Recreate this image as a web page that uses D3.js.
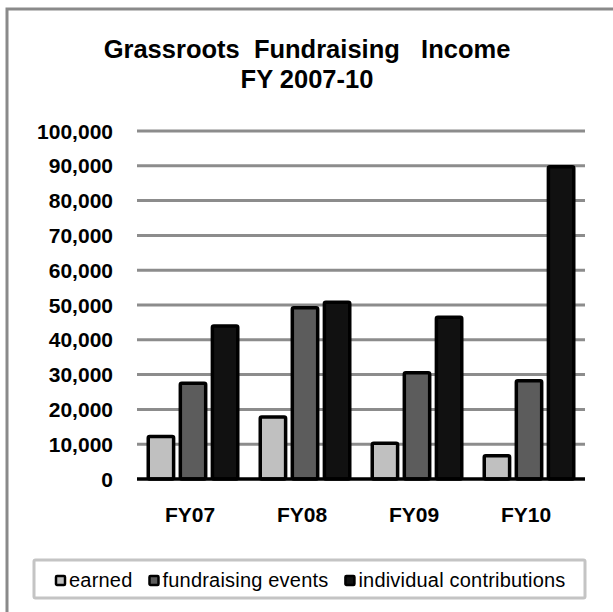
<!DOCTYPE html>
<html>
<head>
<meta charset="utf-8">
<script src="https://cdn.jsdelivr.net/npm/d3@7"></script>
<style>
  html, body { margin: 0; padding: 0; background: #fff; }
  svg { display: block; }
  text { font-family: "Liberation Sans", Arial, sans-serif; }
</style>
</head>
<body>
<script>
const categories = ["FY07", "FY08", "FY09", "FY10"];
const seriesNames = ["earned", "fundraising events", "individual contributions"];
const earned = [12700, 18300, 10800, 7200];
const fundraisingEvents = [28000, 49700, 31000, 28700];
const individualContributions = [44500, 51300, 47000, 90200];
const yTicks = [0, 10000, 20000, 30000, 40000, 50000, 60000, 70000, 80000, 90000, 100000];
const titleLines = ["Grassroots  Fundraising   Income", "FY 2007-10"];
const colors = ["#c0c0c0", "#5c5c5c", "#111111"];

const seriesValues = [earned, fundraisingEvents, individualContributions];

const W = 613, H = 612;
const svg = d3.select("body").append("svg").attr("width", W).attr("height", H);

// outer chart border (top + left visible)
svg.append("path")
  .attr("d", `M7,${H} L7,9 L${W},9`)
  .attr("fill", "none").attr("stroke", "#8a8a8a").attr("stroke-width", 3);

// title
const title = svg.append("text")
  .attr("text-anchor", "middle")
  .attr("font-weight", "bold").attr("font-size", 25.5)
  .attr("fill", "#000")
  .style("white-space", "pre");
titleLines.forEach((t, i) => {
  title.append("tspan").attr("x", 307).attr("y", 58 + i * 30).text(t);
});

const plotLeft = 137, plotRight = 585, plotTop = 131, plotBottom = 479;
const y = d3.scaleLinear().domain([0, 100000]).range([plotBottom, plotTop]);
const x0 = d3.scaleBand().domain(categories).range([plotLeft, plotRight]);
const x1 = d3.scaleBand().domain(seriesNames).range([9.5, x0.bandwidth() - 9.5]).paddingInner(0.1);

// gridlines
svg.append("g").selectAll("line")
  .data(yTicks.filter(d => d > 0))
  .join("line")
  .attr("x1", plotLeft).attr("x2", plotRight)
  .attr("y1", d => y(d)).attr("y2", d => y(d))
  .attr("stroke", "#8c8c8c").attr("stroke-width", 3);

// y axis labels
const fmt = d3.format(",");
svg.append("g").selectAll("text")
  .data(yTicks)
  .join("text")
  .attr("x", 113).attr("y", d => y(d))
  .attr("dy", "0.36em")
  .attr("text-anchor", "end")
  .attr("font-weight", "bold").attr("font-size", 21)
  .attr("fill", "#000")
  .text(d => fmt(d));

// bars
const sw = 3.5;
const groups = svg.append("g").selectAll("g")
  .data(categories)
  .join("g")
  .attr("transform", d => `translate(${x0(d)},0)`);

groups.selectAll("rect")
  .data((c, ci) => seriesNames.map((s, si) => ({ s, si, v: seriesValues[si][ci] })))
  .join("rect")
  .attr("x", d => x1(d.s) + sw / 2)
  .attr("width", x1.bandwidth() - sw)
  .attr("y", d => y(d.v) + sw / 2)
  .attr("height", d => y(0) - y(d.v) - sw / 2)
  .attr("rx", 1.5)
  .attr("fill", d => colors[d.si])
  .attr("stroke", "#000").attr("stroke-width", sw)
  .attr("stroke-linejoin", "round");

// zero axis line
svg.append("line")
  .attr("x1", plotLeft).attr("x2", plotRight)
  .attr("y1", y(0)).attr("y2", y(0))
  .attr("stroke", "#000").attr("stroke-width", 3.5);

// x labels
svg.append("g").selectAll("text")
  .data(categories)
  .join("text")
  .attr("x", d => x0(d) + x0.bandwidth() / 2 - 3)
  .attr("y", 522)
  .attr("text-anchor", "middle")
  .attr("font-weight", "bold").attr("font-size", 21)
  .attr("fill", "#000")
  .text(d => d);

// legend
const legend = svg.append("g");
legend.append("rect")
  .attr("x", 34).attr("y", 560).attr("width", 551).attr("height", 38)
  .attr("fill", "#fff").attr("stroke", "#c4c4c4").attr("stroke-width", 3).attr("rx", 1.5);

let lx = 55;
seriesNames.forEach((name, i) => {
  const g = legend.append("g").attr("transform", `translate(${lx},0)`);
  g.append("rect")
    .attr("x", 1).attr("y", 576).attr("width", 9).attr("height", 9)
    .attr("fill", colors[i]).attr("stroke", "#000").attr("stroke-width", 2.5).attr("rx", 1);
  const t = g.append("text")
    .attr("x", 14).attr("y", 587)
    .attr("font-size", 20).attr("fill", "#000")
    .attr("letter-spacing", 0.2)
    .text(name);
  const w = t.node().getComputedTextLength();
  lx += 14 + w + 16;
});
</script>
</body>
</html>
